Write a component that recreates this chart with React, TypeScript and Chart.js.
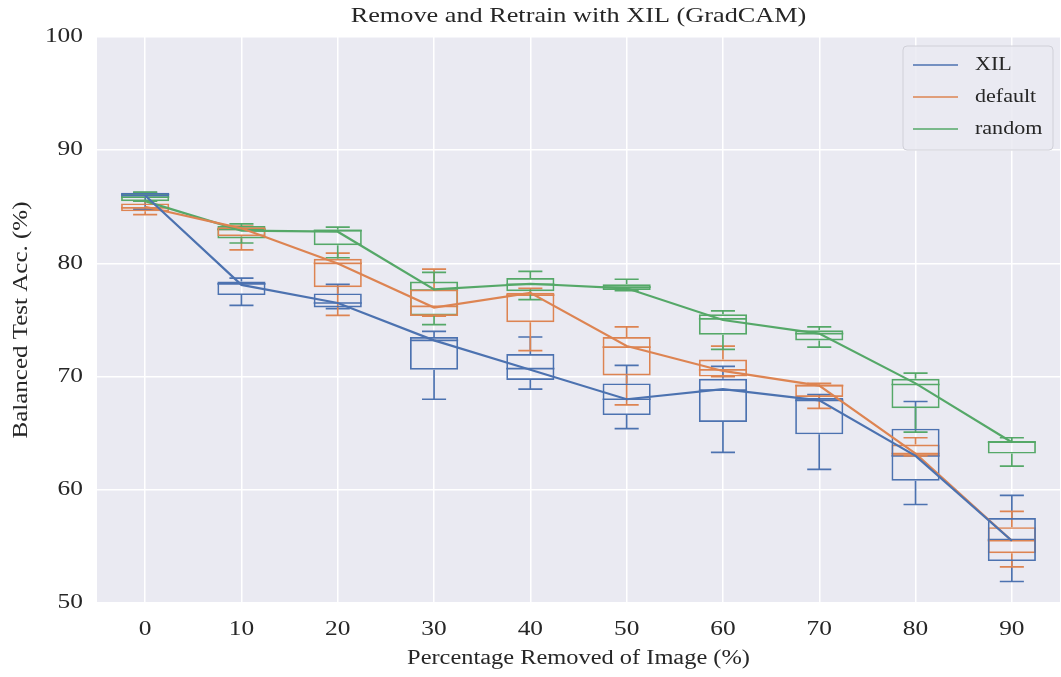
import React, { useEffect, useRef } from "react";
import { Chart, registerables } from "chart.js";

Chart.register(...registerables);

const categories = ["0", "10", "20", "30", "40", "50", "60", "70", "80", "90"];
const yTicks = [50, 60, 70, 80, 90, 100];

const seriesNames = ["XIL", "default", "random"];
const seriesColors = ["#4C72B0", "#DD8452", "#55A868"];

// XIL
const xilLine = [86.0, 78.1, 76.5, 73.2, 70.6, 68.0, 68.9, 67.9, 63.0, 55.5];
const xilQ3 = [86.25, 78.4, 77.35, 73.5, 72.0, 69.4, 69.8, 68.1, 65.4, 57.5];
const xilMed = [86.1, 78.2, 76.5, 73.2, 70.7, 68.0, 68.8, 67.9, 63.0, 55.6];
const xilQ1 = [85.9, 77.2, 76.1, 70.6, 69.7, 66.6, 66.0, 64.9, 60.8, 53.7];
const xilHi = [86.25, 78.7, 78.15, 74.0, 73.5, 71.0, 70.9, 68.4, 67.8, 59.5];
const xilLo = [84.8, 76.3, 76.0, 68.0, 68.9, 65.4, 63.3, 61.8, 58.7, 51.9];

// default
const defLine = [85.0, 83.1, 80.0, 76.1, 77.4, 72.7, 70.5, 69.2, 63.2, 55.5];
const defQ3 = [85.3, 83.2, 80.4, 77.7, 77.4, 73.5, 71.5, 69.3, 64.0, 56.7];
const defMed = [84.9, 83.0, 80.0, 76.2, 77.2, 72.6, 70.6, 69.2, 63.2, 55.5];
const defQ1 = [84.6, 82.4, 77.9, 75.35, 74.8, 70.1, 70.0, 68.2, 63.0, 54.4];
const defHi = [85.5, 83.3, 80.9, 79.5, 77.8, 74.4, 72.7, 69.4, 64.6, 58.1];
const defLo = [84.3, 81.2, 75.4, 75.35, 72.3, 67.5, 70.0, 67.2, 63.0, 53.2];

// random
const rndLine = [85.5, 82.9, 82.8, 77.7, 78.2, 77.8, 75.0, 73.8, 69.4, 64.2];
const rndQ3 = [86.1, 83.3, 83.0, 78.4, 78.7, 78.15, 75.5, 74.1, 69.8, 64.3];
const rndMed = [85.85, 83.0, 82.9, 77.65, 78.15, 77.9, 75.1, 73.8, 69.3, 64.2];
const rndQ1 = [85.5, 82.2, 81.6, 75.4, 77.55, 77.65, 73.7, 73.2, 67.2, 63.2];
const rndHi = [86.3, 83.5, 83.2, 79.2, 79.3, 78.6, 75.8, 74.4, 70.3, 64.6];
const rndLo = [85.5, 81.8, 80.5, 74.6, 76.8, 77.6, 72.4, 72.6, 65.1, 62.1];

const lines = [xilLine, defLine, rndLine];
const q3s = [xilQ3, defQ3, rndQ3];
const meds = [xilMed, defMed, rndMed];
const q1s = [xilQ1, defQ1, rndQ1];
const his = [xilHi, defHi, rndHi];
const los = [xilLo, defLo, rndLo];

const FONT = "'Liberation Serif', 'DejaVu Serif', serif";
const TEXT = "#262626";

function stretchedText(ctx: any, text: string, x: number, y: number, sx: number, align: string, rotate = 0) {
  ctx.save();
  ctx.translate(x, y);
  if (rotate) ctx.rotate(rotate);
  ctx.scale(sx, 1);
  ctx.textAlign = align;
  ctx.fillText(text, 0, 0);
  ctx.restore();
}

export default function App() {
  const ref = useRef<HTMLCanvasElement | null>(null);

  useEffect(() => {
    document.body.style.margin = "0";
    const canvas = ref.current;
    if (!canvas) return;

    const boxDatasets = seriesNames.map((name, s) => ({
      type: "bar" as const,
      label: name + " box",
      data: categories.map((_, i) => [q1s[s][i], q3s[s][i]]),
      backgroundColor: "rgba(0,0,0,0)",
      borderColor: seriesColors[s],
      borderWidth: 1.7,
      borderSkipped: false,
      grouped: false,
      barPercentage: 0.5,
      categoryPercentage: 1,
      order: 2,
    }));

    const lineDatasets = seriesNames.map((name, s) => ({
      type: "line" as const,
      label: name,
      data: lines[s],
      borderColor: seriesColors[s],
      backgroundColor: seriesColors[s],
      borderWidth: 2.2,
      pointRadius: 0,
      tension: 0,
      order: 1,
    }));

    const whiskerPlugin = {
      id: "whiskers",
      beforeDatasetsDraw(chart: any) {
        const ctx = chart.ctx;
        const x = chart.scales.x;
        const y = chart.scales.y;
        const boxW = (chart.chartArea.right - chart.chartArea.left) / categories.length * 0.5;
        const capW = boxW / 2;
        ctx.save();
        ctx.lineWidth = 1.7;
        for (let s = 0; s < seriesNames.length; s++) {
          ctx.strokeStyle = seriesColors[s];
          for (let i = 0; i < categories.length; i++) {
            const cx = x.getPixelForValue(i);
            const pHi = y.getPixelForValue(his[s][i]);
            const pLo = y.getPixelForValue(los[s][i]);
            const pQ3 = y.getPixelForValue(q3s[s][i]);
            const pQ1 = y.getPixelForValue(q1s[s][i]);
            const pMed = y.getPixelForValue(meds[s][i]);
            ctx.beginPath();
            ctx.moveTo(cx, pQ3);
            ctx.lineTo(cx, pHi);
            ctx.moveTo(cx, pQ1);
            ctx.lineTo(cx, pLo);
            ctx.moveTo(cx - capW / 2, pHi);
            ctx.lineTo(cx + capW / 2, pHi);
            ctx.moveTo(cx - capW / 2, pLo);
            ctx.lineTo(cx + capW / 2, pLo);
            ctx.moveTo(cx - boxW / 2, pMed);
            ctx.lineTo(cx + boxW / 2, pMed);
            ctx.stroke();
          }
        }
        ctx.restore();
      },
    };

    const decorPlugin = {
      id: "decor",
      beforeDraw(chart: any) {
        const ctx = chart.ctx;
        const a = chart.chartArea;
        ctx.save();
        ctx.fillStyle = "#EAEAF2";
        ctx.fillRect(a.left, a.top, a.right - a.left, a.bottom - a.top);
        ctx.restore();
      },
      afterDraw(chart: any) {
        const ctx = chart.ctx;
        const a = chart.chartArea;
        const xs = chart.scales.x;
        const ys = chart.scales.y;
        ctx.save();
        ctx.fillStyle = TEXT;
        ctx.textBaseline = "middle";
        ctx.font = `21px ${FONT}`;
        stretchedText(ctx, "Remove and Retrain with XIL (GradCAM)", (a.left + a.right) / 2, 16, 1.25, "center");
        ctx.font = `20px ${FONT}`;
        stretchedText(ctx, "Percentage Removed of Image (%)", (a.left + a.right) / 2, 659, 1.22, "center");
        stretchedText(ctx, "Balanced Test Acc. (%)", 22, (a.top + a.bottom) / 2, 1.25, "center", -Math.PI / 2);
        // tick labels from the scales
        ctx.font = `20px ${FONT}`;
        ys.ticks.forEach((t: any) => {
          stretchedText(ctx, String(t.value), 83, ys.getPixelForValue(t.value), 1.27, "right");
        });
        categories.forEach((c, i) => {
          stretchedText(ctx, xs.getLabelForValue(i), xs.getPixelForValue(i), 630, 1.27, "center");
        });
        ctx.restore();

        // legend
        ctx.save();
        const lx = 903, ly = 46, lw = 150, lh = 104, r = 4;
        ctx.beginPath();
        ctx.moveTo(lx + r, ly);
        ctx.lineTo(lx + lw - r, ly);
        ctx.arcTo(lx + lw, ly, lx + lw, ly + r, r);
        ctx.lineTo(lx + lw, ly + lh - r);
        ctx.arcTo(lx + lw, ly + lh, lx + lw - r, ly + lh, r);
        ctx.lineTo(lx + r, ly + lh);
        ctx.arcTo(lx, ly + lh, lx, ly + lh - r, r);
        ctx.lineTo(lx, ly + r);
        ctx.arcTo(lx, ly, lx + r, ly, r);
        ctx.closePath();
        ctx.fillStyle = "rgba(234,234,242,0.85)";
        ctx.fill();
        ctx.strokeStyle = "#D0D0D8";
        ctx.lineWidth = 1;
        ctx.stroke();
        ctx.font = `19px ${FONT}`;
        ctx.textBaseline = "middle";
        for (let s = 0; s < seriesNames.length; s++) {
          const yy = 65 + s * 32;
          ctx.strokeStyle = seriesColors[s];
          ctx.lineWidth = 1.5;
          ctx.beginPath();
          ctx.moveTo(913, yy);
          ctx.lineTo(958, yy);
          ctx.stroke();
          ctx.fillStyle = TEXT;
          stretchedText(ctx, seriesNames[s], 975, yy, 1.16, "left");
        }
        ctx.restore();
      },
    };

    const chart = new Chart(canvas, {
      data: {
        labels: categories,
        datasets: [...boxDatasets, ...lineDatasets] as any,
      },
      options: {
        animation: false,
        responsive: false,
        layout: { padding: { top: 37, right: 1, left: 0, bottom: 0 } },
        plugins: {
          legend: { display: false },
          title: { display: false },
          tooltip: { enabled: false },
        },
        scales: {
          x: {
            type: "category",
            offset: true,
            grid: { color: "#FFFFFF", lineWidth: 1.5, offset: false, drawTicks: false },
            border: { display: false },
            ticks: { display: false },
            afterFit(scale: any) {
              scale.height = 74;
            },
          },
          y: {
            type: "linear",
            min: 50,
            max: 100,
            grid: { color: "#FFFFFF", lineWidth: 1.5, drawTicks: false },
            border: { display: false },
            afterBuildTicks(scale: any) {
              scale.ticks = yTicks.map((v) => ({ value: v }));
            },
            ticks: { display: false },
            afterFit(scale: any) {
              scale.width = 97;
            },
          },
        },
      },
      plugins: [decorPlugin, whiskerPlugin],
    } as any);

    return () => chart.destroy();
  }, []);

  return (
    <div style={{ width: 1061, height: 677 }}>
      <canvas ref={ref} width={1061} height={677} style={{ display: "block" }} />
    </div>
  );
}
